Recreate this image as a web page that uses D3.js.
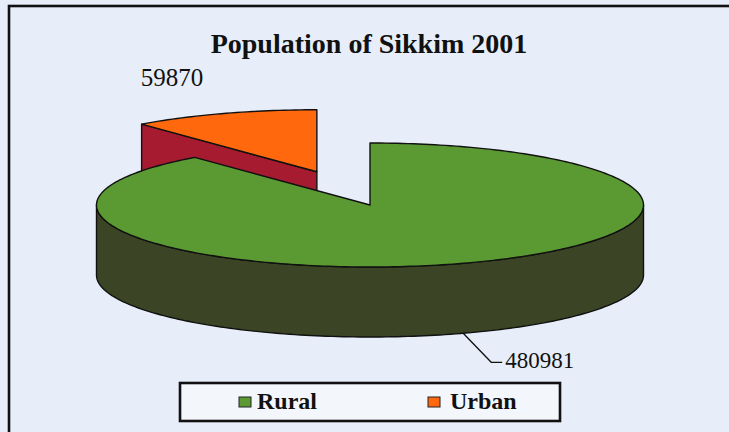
<!DOCTYPE html>
<html>
<head>
<meta charset="utf-8">
<script src="https://cdn.jsdelivr.net/npm/d3@7"></script>
<style>
  html, body { margin: 0; padding: 0; background: #e7eef9; }
  svg { display: block; }
</style>
</head>
<body>
<svg id="chart" width="729" height="432"></svg>
<script>
/* Population of Sikkim 2001 — exploded 3D pie, drawn as flat SVG faces. */

const categories = ['Rural', 'Urban'];
const population = [480981, 59870];
const title = 'Population of Sikkim 2001';

const W = 729, H = 432;
const cx = 370, cy = 205, rx = 273.5, ry = 62, depth = 70;
const explode = 0.57;                 // urban slice pulled out, fraction of radius
const serif = '"Liberation Serif", "Times New Roman", serif';

const topColor = d3.scaleOrdinal().domain(categories).range(['#5b9a33', '#ff680c']);
const sideColor = d3.scaleOrdinal().domain(categories).range(['#3b4424', '#a61b2f']);

const svg = d3.select('#chart');
svg.append('rect').attr('width', W).attr('height', H).attr('fill', '#e7eef9');
// frame — the scan cuts off its right and bottom edges
svg.append('rect').attr('x', 9).attr('y', 6).attr('width', W + 20).attr('height', H + 20)
  .attr('fill', 'none').attr('stroke', '#111').attr('stroke-width', 2.6);

svg.append('text').attr('x', 369).attr('y', 53).attr('text-anchor', 'middle')
  .attr('font-family', serif).attr('font-size', 28).attr('font-weight', 700)
  .attr('fill', '#111').text(title);

/* ---------- geometry ---------- */
// unit circle -> screen ellipse
const x = d3.scaleLinear().domain([-1, 1]).range([cx - rx, cx + rx]);
const y = d3.scaleLinear().domain([-1, 1]).range([cy + ry, cy - ry]);

const pie = d3.pie().sort(null).value(d => d.value);
const arcs = pie(categories.map((c, i) => ({ name: c, value: population[i] })));

const line = d3.line();
const pt = (a, s, dz = 0) => [x(Math.sin(a)) + s.ox, y(Math.cos(a)) + s.oy + dz];
const rim = (a0, a1, s, dz) => {
  const n = Math.max(2, Math.ceil((a1 - a0) / 0.02));
  return d3.range(n + 1).map(i => pt(a0 + (a1 - a0) * i / n, s, dz));
};

arcs.forEach(s => {
  s.mid = (s.startAngle + s.endAngle) / 2;
  const k = s.data.name === 'Urban' ? explode : 0;
  s.ox = x(k * Math.sin(s.mid)) - x(0);
  s.oy = y(k * Math.cos(s.mid)) - y(0);
  s.apex = [cx + s.ox, cy + s.oy];
});

const g = svg.append('g').attr('stroke', '#111').attr('stroke-width', 1.4)
  .attr('stroke-linejoin', 'round');

// back slices first
arcs.slice().sort((a, b) => a.apex[1] - b.apex[1]).forEach(s => {
  const a0 = s.startAngle, a1 = s.endAngle;
  const side = sideColor(s.data.name);
  // radial faces, drawn only when they turn towards the viewer
  [[a0, a0 - Math.PI / 2], [a1, a1 + Math.PI / 2]].forEach(([a, nrm]) => {
    if (Math.cos(nrm) > -0.05) return;
    const p = pt(a, s);
    g.append('path').attr('fill', side)
      .attr('d', line([s.apex, p, [p[0], p[1] + depth], [s.apex[0], s.apex[1] + depth]]) + 'Z');
  });
  // outer wall, front half only
  const f0 = Math.max(a0, Math.PI / 2), f1 = Math.min(a1, 3 * Math.PI / 2);
  if (f1 > f0) {
    const wall = rim(f0, f1, s, 0).concat(rim(f0, f1, s, depth).reverse());
    g.append('path').attr('fill', side).attr('d', line(wall) + 'Z');
  }
  // top
  g.append('path').attr('fill', topColor(s.data.name))
    .attr('d', line([s.apex].concat(rim(a0, a1, s, 0))) + 'Z');
});

/* ---------- value labels ---------- */
const fmt = d3.format('d');
arcs.forEach(s => {
  if (s.data.name === 'Rural') {
    const p = pt(s.mid, s, depth);
    const k = [p[0] + 28, p[1] + 29];
    svg.append('path').attr('fill', 'none').attr('stroke', '#111').attr('stroke-width', 1.3)
      .attr('d', line([p, k, [k[0] + 11, k[1]]]));
    svg.append('text').attr('x', k[0] + 14).attr('y', k[1] + 6)
      .attr('font-family', serif).attr('font-size', 23).attr('fill', '#111')
      .text(fmt(s.value));
  } else {
    const p = pt(s.mid, s);
    svg.append('text').attr('x', p[0] - 83).attr('y', p[1] - 27)
      .attr('font-family', serif).attr('font-size', 25).attr('fill', '#111')
      .text(fmt(s.value));
  }
});

/* ---------- legend ---------- */
const legend = svg.append('g');
legend.append('rect').attr('x', 180).attr('y', 383).attr('width', 380).attr('height', 38)
  .attr('fill', '#f3f6fb').attr('stroke', '#111').attr('stroke-width', 2.6);
const lx = d3.scalePoint().domain(categories).range([239, 428]);
categories.forEach(c => {
  legend.append('rect').attr('x', lx(c)).attr('y', 397).attr('width', 12).attr('height', 10)
    .attr('fill', topColor(c)).attr('stroke', '#222').attr('stroke-width', 1);
  legend.append('text').attr('x', lx(c) + 18 + (c === 'Urban' ? 4 : 0)).attr('y', 409)
    .attr('font-family', serif).attr('font-size', 24).attr('font-weight', 700)
    .attr('fill', '#111').text(c);
});
</script>
</body>
</html>
